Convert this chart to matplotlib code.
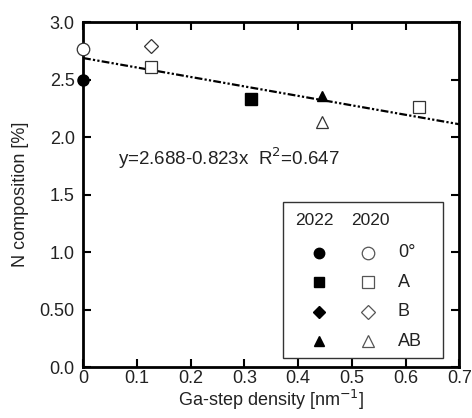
import numpy as np
import matplotlib
matplotlib.use("Agg")
import matplotlib.pyplot as plt
from matplotlib.patches import Rectangle

plt.rcParams['font.family'] = ['Liberation Sans', 'DejaVu Sans']

# 2022 samples (filled)
x22 = [0.0, 0.312, 0.444]
y22 = [2.50, 2.33, 2.36]
m22 = ['o', 's', '^']

# 2020 samples (open)
x20 = [0.0, 0.126, 0.626, 0.126, 0.444]
y20 = [2.765, 2.61, 2.26, 2.79, 2.13]
m20 = ['o', 's', 's', 'D', '^']

fit_a, fit_b = 2.688, -0.823
fit_x = [0.0, 0.7]

yticks = [0.0, 0.5, 1.0, 1.5, 2.0, 2.5, 3.0]
ytick_labels = ['0.0', '0.50', '1.0', '1.5', '2.0', '2.5', '3.0']
xticks = [0, 0.1, 0.2, 0.3, 0.4, 0.5, 0.6, 0.7]
xtick_labels = ['0', '0.1', '0.2', '0.3', '0.4', '0.5', '0.6', '0.7']

legend_rows = [('o', '0°'), ('s', 'A'), ('D', 'B'), ('^', 'AB')]

fig = plt.figure(figsize=(4.72, 4.18), dpi=100)
ax = fig.add_axes([0.176, 0.122, 0.797, 0.825])

fx = np.array(fit_x)
ax.plot(fx, fit_a + fit_b * fx, color='black', lw=1.6,
        linestyle=(0, (3.5, 1, 1, 1, 1, 1)))

ms = {'o': 8, 's': 8, 'D': 6.5, '^': 7.5}
for x, y, m in zip(x22, y22, m22):
    ax.plot(x, y, marker=m, ms=ms[m], color='black', ls='none', clip_on=False, zorder=5)
for x, y, m in zip(x20, y20, m20):
    ax.plot(x, y, marker=m, ms=ms[m] + 1, mfc='white', mec='#333333', mew=0.9,
            ls='none', clip_on=False, zorder=5)

ax.text(0.065, 1.82, 'y=2.688-0.823x  R$^2$=0.647', fontsize=13.5, va='center',
        color='#222222')

# legend drawn by hand
box = Rectangle((0.532, 0.026), 0.425, 0.452, transform=ax.transAxes,
                fill=True, fc='white', ec='#333333', lw=1.0, zorder=6)
ax.add_patch(box)
ax.text(0.565, 0.425, '2022', transform=ax.transAxes, fontsize=12.5, va='center',
        color='#222222', zorder=7)
ax.text(0.712, 0.425, '2020', transform=ax.transAxes, fontsize=12.5, va='center',
        color='#222222', zorder=7)
for i, (m, lab) in enumerate(legend_rows):
    yy = 0.331 - i * 0.0855
    ax.plot(0.627, yy, marker=m, ms=ms[m] - 0.5, color='black', transform=ax.transAxes,
            ls='none', zorder=7)
    ax.plot(0.757, yy, marker=m, ms=ms[m] + 1, mfc='white', mec='#555555', mew=0.9,
            transform=ax.transAxes, ls='none', zorder=7)
    ax.text(0.837, yy, lab, transform=ax.transAxes, fontsize=13, va='center',
            color='#222222', zorder=7)

ax.set_xlim(0, 0.7)
ax.set_ylim(0, 3.0)
ax.set_xticks(xticks)
ax.set_xticklabels(xtick_labels)
ax.set_yticks(yticks)
ax.set_yticklabels(ytick_labels)
ax.tick_params(direction='in', length=6, width=1.5, top=True, right=True,
               labelsize=13, colors='black', labelcolor='#222222')
ax.tick_params(axis='x', pad=2)
ax.tick_params(axis='y', pad=6)
for s in ax.spines.values():
    s.set_linewidth(2)

ax.set_xlabel('Ga-step density [nm$^{-1}$]', fontsize=13, color='#222222', labelpad=1)
ax.set_ylabel('N composition [%]', fontsize=13, color='#222222', labelpad=8)

fig.savefig('out.png', dpi=100)
